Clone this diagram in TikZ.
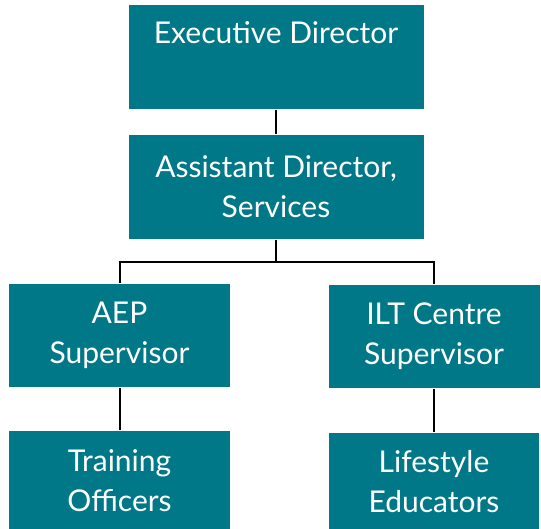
\documentclass[tikz,border=0pt]{standalone}
\usepackage{fontspec}
\setsansfont{Lato}
\usepackage{tikz}
\usetikzlibrary{positioning}

\definecolor{boxteal}{RGB}{0,120,135}

\begin{document}
\begin{tikzpicture}[x=1pt,y=-1pt,node distance=1cm,
                    line width=2pt,
                    org node/.style={rectangle,fill=boxteal,text=white,inner sep=0pt,
                                     align=center,font=\sffamily\fontsize{30}{40}\selectfont}]
  \useasboundingbox (0,0) rectangle (541,529);

  \node[org node,minimum width=295pt,minimum height=104pt] (ed) at (276,57)
       {Executive Director\\[-4pt]\strut};
  \node[org node,minimum width=295pt,minimum height=104pt] (ad) [below=24pt of ed]
       {Assistant Director,\\Services};
  \node[org node,minimum width=221pt,minimum height=103pt] (aep) at (119.5,335.5)
       {AEP\\Supervisor};
  \node[org node,minimum width=211pt,minimum height=102pt] (ilt) at (434,336.5)
       {ILT Centre\\Supervisor};
  \node[org node,minimum width=221pt,minimum height=100pt] (train) [below=42pt of aep]
       {Training\\Officers};
  \node[org node,minimum width=210pt,minimum height=98pt] (life) [below=43pt of ilt]
       {Lifestyle\\Educators};

  \coordinate (split) at (276,262);

  \draw (ed) -- (ad);
  \draw (ad) -- (split);
  \draw (aep.north) |- (split) -| (ilt.north);
  \draw (aep) -- (train);
  \draw (ilt) -- (life);
\end{tikzpicture}
\end{document}
